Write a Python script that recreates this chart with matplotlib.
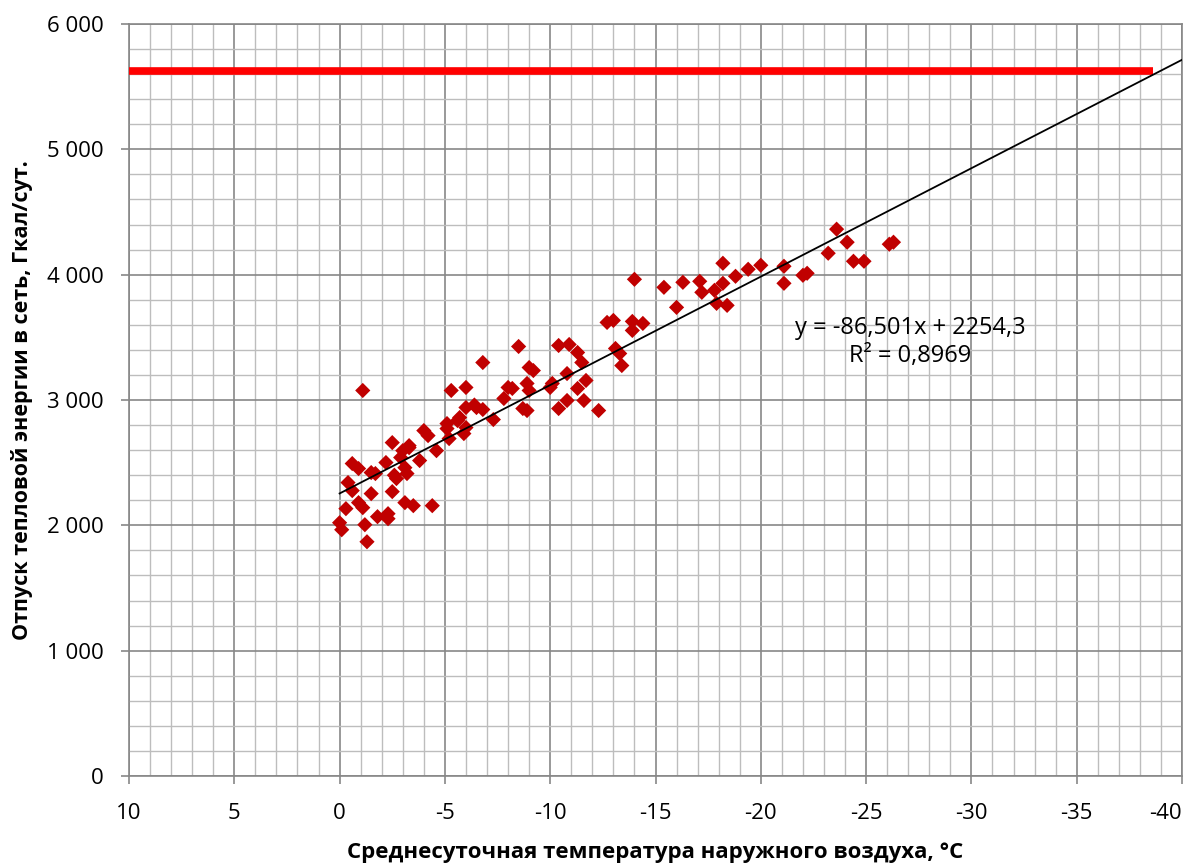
import matplotlib
matplotlib.use("Agg")
import matplotlib.pyplot as plt
from matplotlib.ticker import MultipleLocator, FuncFormatter
import numpy as np

# Data
temp = [0.0, -0.1, -0.3, -0.4, -0.6, -0.6, -0.9, -0.9, -1.1, -1.1, -1.2, -1.3, -1.5, -1.5,
        -1.7, -1.8, -2.2, -2.3, -2.3, -2.5, -2.5, -2.6, -2.7, -2.9, -3.0, -3.1, -3.1, -3.2,
        -3.3, -3.3, -3.5, -3.8, -4.0, -4.2, -4.4, -4.6, -5.1, -5.1, -5.2, -5.3, -5.6, -5.7,
        -5.9, -6.0, -6.0, -6.0, -6.4, -6.5, -6.8, -6.8, -7.3, -7.8, -8.0, -8.2, -8.5, -8.7,
        -8.9, -8.9, -9.0, -9.0, -9.2, -10.0, -10.1, -10.4, -10.4, -10.8, -10.8, -10.9,
        -11.3, -11.5, -11.3, -11.7, -11.6, -12.3, -12.7, -13.0, -13.1, -13.3, -13.4, -13.9,
        -13.9, -14.0, -14.4, -15.4, -16.0, -16.3, -17.1, -17.2, -17.8, -17.9, -18.2, -18.2,
        -18.4, -18.8, -19.4, -20.0, -21.1, -21.1, -22.0, -22.2, -23.2, -23.6, -24.1, -24.4,
        -24.9, -26.1, -26.3]
heat = [2021, 1965, 2133, 2341, 2493, 2277, 2453, 2181, 3076, 2141, 2005, 1869, 2421, 2253,
        2413, 2069, 2501, 2093, 2053, 2660, 2269, 2400, 2373, 2541, 2596, 2181, 2460, 2413,
        2620, 2636, 2157, 2517, 2756, 2716, 2157, 2596, 2812, 2772, 2692, 3076, 2836, 2860,
        2732, 2940, 3100, 2780, 2960, 2940, 2924, 3299, 2844, 3012, 3100, 3092, 3427, 2932,
        2916, 3132, 3259, 3076, 3235, 3100, 3132, 3435, 2932, 3211, 2996, 3443,
        3379, 3299, 3092, 3156, 2996, 2916, 3619, 3635, 3411, 3371, 3275, 3627,
        3555, 3963, 3611, 3899, 3739, 3939, 3947, 3859, 3875, 3771, 3931, 4091,
        3755, 3987, 4043, 4075, 4067, 3931, 3995, 4011, 4171, 4363, 4259, 4107,
        4107, 4243, 4259]

trend_slope = -86.501
trend_intercept = 2254.3
trend_x = [0, -40]
limit_x = [10, -38.6]
limit_value = 5627

x_ticks = [10, 5, 0, -5, -10, -15, -20, -25, -30, -35, -40]
y_ticks = [0, 1000, 2000, 3000, 4000, 5000, 6000]

fig = plt.figure(figsize=(11.9, 8.63), dpi=100)
ax = fig.add_axes([129/1190, 1 - 776/863, (1182-129)/1190, (776-24)/863])

ax.set_xlim(10, -40)
ax.set_ylim(0, 6000)
ax.set_xticks(x_ticks)
ax.set_yticks(y_ticks)
ax.xaxis.set_minor_locator(MultipleLocator(1))
ax.yaxis.set_minor_locator(MultipleLocator(200))
ax.grid(which='major', color='#878787', linewidth=1.2, zorder=0)
ax.grid(which='minor', color='#bdbdbd', linewidth=1.0, zorder=0)
ax.set_axisbelow(True)
for s in ax.spines.values():
    s.set_color('#878787')
    s.set_linewidth(1.2)
ax.tick_params(which='major', length=5.5, color='#878787', width=1.2)
ax.tick_params(which='minor', length=0)
ax.tick_params(axis='x', pad=14)
ax.tick_params(axis='y', pad=13)

ax.yaxis.set_major_formatter(FuncFormatter(lambda v, p: f"{int(v):,}".replace(",", " ")))
ax.xaxis.set_major_formatter(FuncFormatter(lambda v, p: f"{int(v)}"))
for lab in ax.get_yticklabels():
    lab.set_fontfamily('Open Sans')
    lab.set_fontsize(16)
xlabs = ax.get_xticklabels()
for lab in xlabs:
    lab.set_fontfamily('Open Sans')
    lab.set_fontsize(16)
xlabs[-1].set_horizontalalignment('right')

# Red limit line
ax.plot(limit_x, [limit_value, limit_value], color='#ff0000', linewidth=5.5,
        solid_capstyle='butt', zorder=3)

# Data points
ax.scatter(temp, heat, marker='D', s=60, color='#c00000', edgecolors='none', zorder=4)

# Trendline
tx = np.array(trend_x, dtype=float)
ax.plot(tx, trend_slope * tx + trend_intercept, color='black', linewidth=1.3, zorder=5)

ax.text(-27.1, 3463, "y = -86,501x + 2254,3\nR² = 0,8969", ha='center', va='center',
        fontsize=17, family='Open Sans', linespacing=1.2, zorder=6)

ax.set_xlabel("Среднесуточная температура наружного воздуха, °C", fontsize=16,
              fontweight='bold', family='Open Sans', labelpad=13)
ax.set_ylabel("Отпуск тепловой энергии в сеть, Гкал/сут.", fontsize=15.5,
              fontweight='bold', family='Open Sans', labelpad=10)

fig.savefig("out.png", dpi=100)
